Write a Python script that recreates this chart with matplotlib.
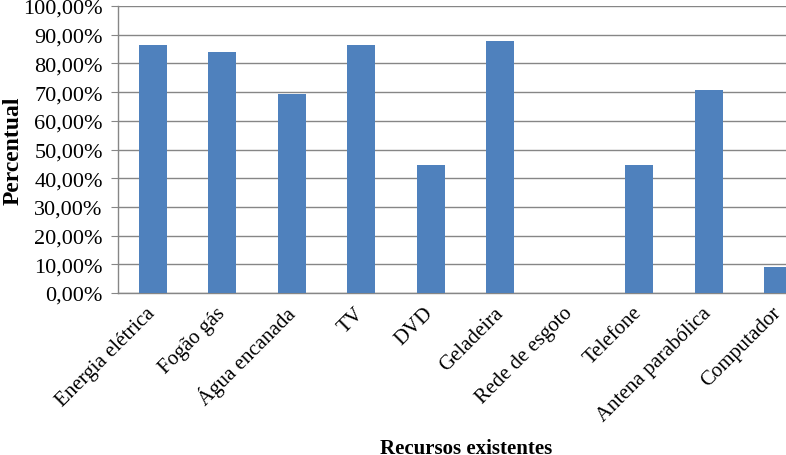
import matplotlib
matplotlib.use("Agg")
import matplotlib.pyplot as plt
from matplotlib.ticker import FuncFormatter, MultipleLocator

plt.rcParams["font.family"] = ["Liberation Serif", "DejaVu Serif"]

categorias = [
    "Energia elétrica", "Fogão gás", "Água encanada", "TV", "DVD",
    "Geladeira", "Rede de esgoto", "Telefone", "Antena parabólica", "Computador",
]
percentual = [86.4, 84.0, 69.3, 86.4, 44.6, 87.8, 0.0, 44.6, 70.7, 9.1]

BAR_C = "#4F81BD"
GRID_C = "#868686"

fig = plt.figure(figsize=(7.86, 4.56), dpi=100)
# plot area runs past the right edge, like the cropped original
ax = fig.add_axes([118 / 786, 162 / 456, 695 / 786, 287 / 456])

xs = list(range(len(categorias)))
ax.bar(xs, percentual, width=0.40, color=BAR_C, zorder=3)

ax.set_xlim(-0.5, len(categorias) - 0.5)
ax.set_ylim(0, 100)
ax.yaxis.set_major_locator(MultipleLocator(10))
ax.yaxis.set_major_formatter(FuncFormatter(lambda v, _: f"{v:.2f}%".replace(".", ",")))
ax.yaxis.grid(True, color=GRID_C, linewidth=1.0)
ax.set_axisbelow(True)

for s in ("top", "right"):
    ax.spines[s].set_visible(False)
for s in ("left", "bottom"):
    ax.spines[s].set_color(GRID_C)
    ax.spines[s].set_linewidth(1.0)

ax.tick_params(axis="y", length=5, color=GRID_C, pad=6, labelsize=16)
ax.tick_params(axis="x", length=0, pad=12, labelsize=15)
ax.set_xticks(xs)
ax.set_xticklabels(categorias, rotation=45, ha="right", va="center", rotation_mode="anchor")

ax.set_ylabel("Percentual", fontsize=17, fontweight="bold")
ax.yaxis.set_label_coords(-0.136, 0.5)
ax.set_xlabel("Recursos existentes", fontsize=15, fontweight="bold")
ax.xaxis.set_label_coords(0.5007, -0.505)

fig.savefig("out.png", dpi=100)
